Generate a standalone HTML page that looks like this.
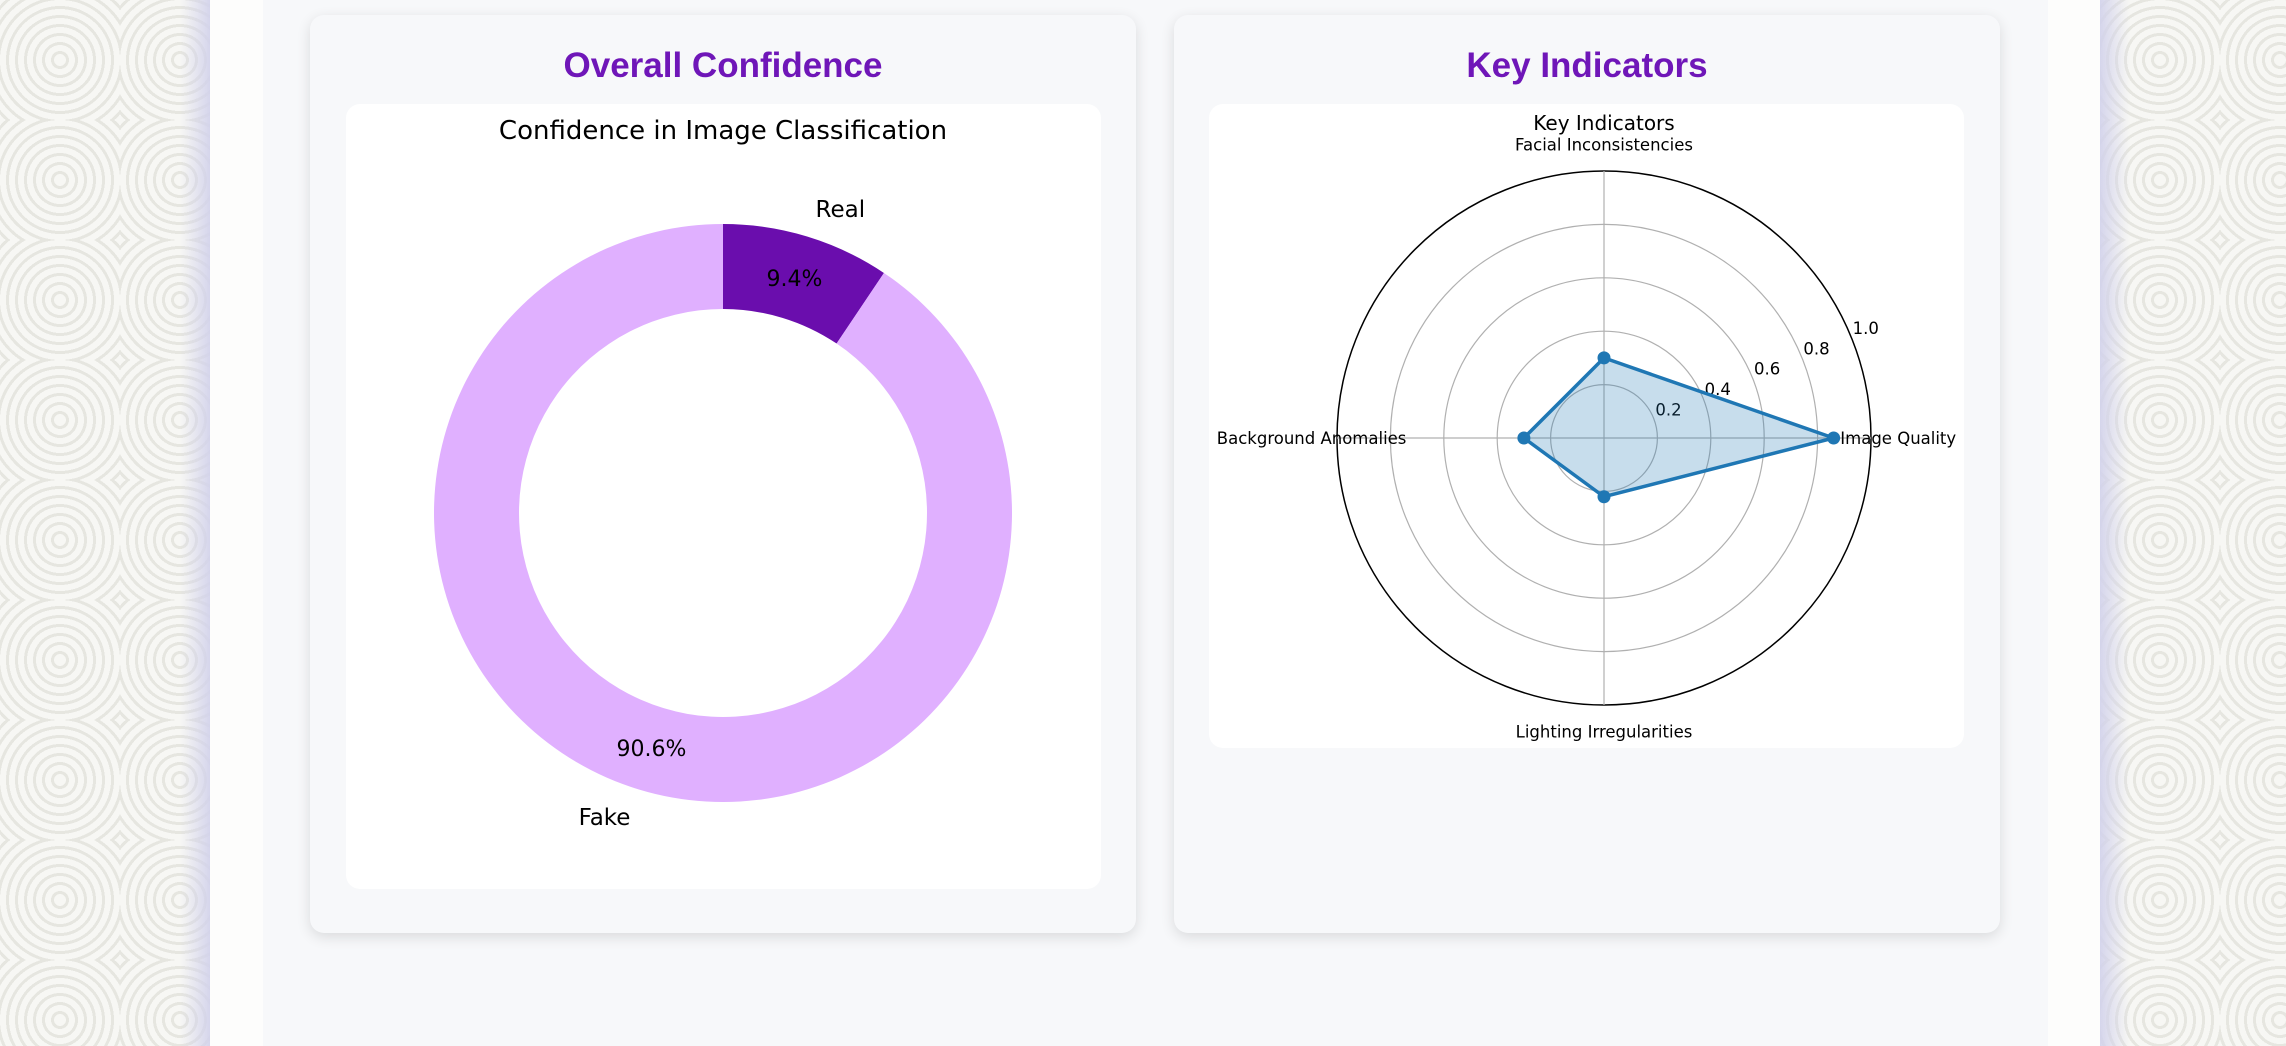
<!DOCTYPE html>
<html><head><meta charset="utf-8"><style>
html,body{margin:0;padding:0;width:2286px;height:1046px;overflow:hidden;background:#fdfdfc;}
.bg{position:absolute;top:0;height:1046px;width:210px;
background-color:#f1f1ed;
background-image:repeating-radial-gradient(circle at 60px 60px,#f7f7f4 0 6px,#e6e6e0 6px 9px),repeating-radial-gradient(circle at 150px 160px,#f7f7f4 0 6px,#e6e6e0 6px 9px);
background-size:120px 120px,180px 180px;}
#bgL{left:0;}#bgR{left:2100px;}
.edgeL{position:absolute;left:180px;top:0;width:30px;height:1046px;background:linear-gradient(90deg,rgba(220,220,240,0),rgba(210,210,235,.9));}
.edgeR{position:absolute;left:2100px;top:0;width:30px;height:1046px;background:linear-gradient(270deg,rgba(220,220,240,0),rgba(210,210,235,.9));}
.main{position:absolute;left:263px;top:0;width:1785px;height:1046px;background:#f7f8fa;}
.card{position:absolute;top:15px;height:918px;width:826px;background:#f7f8fa;border-radius:14px;box-shadow:0 4px 14px rgba(0,0,0,.12);}
.ctitle{position:absolute;top:31px;left:0;width:100%;text-align:center;font:bold 35px "Liberation Sans",sans-serif;color:#6f16b8;}
.panel{position:absolute;background:#fff;border-radius:14px;}
svg text{font-family:"DejaVu Sans",sans-serif;}
</style></head><body>
<div class="bg" id="bgL"></div>
<div class="bg" id="bgR"></div>
<div class="edgeL"></div><div class="edgeR"></div>
<div class="main"></div>
<div class="card" style="left:310px">
<div class="ctitle">Overall Confidence</div>
<div class="panel" style="left:36px;top:89px;width:755px;height:785px"></div>
</div>
<div class="card" style="left:1174px">
<div class="ctitle">Key Indicators</div>
<div class="panel" style="left:35px;top:89px;width:755px;height:644px"></div>
</div>
<svg id="chart" width="2286" height="1046" style="position:absolute;left:0;top:0"></svg>
<script>
const pieLabels=["Real","Fake"];
const pieValues=[9.4,90.6];
const pieColors=["#6a0dad","#e0b0ff"];
const radarCats=["Image Quality","Facial Inconsistencies","Background Anomalies","Lighting Irregularities"];
const radarValues=[0.86,0.30,0.30,0.22];
const radarTicks=[0.2,0.4,0.6,0.8,1.0];
const NS="http://www.w3.org/2000/svg";
const svg=document.getElementById('chart');
function mk(t,a,p){const e=document.createElementNS(NS,t);for(const k in a)e.setAttribute(k,a[k]);(p||svg).appendChild(e);return e;}
// donut
const cx=723,cy=513,R=289,r0=204;
let t=mk('text',{x:723,y:139,'text-anchor':'middle','font-size':26,fill:'#000'});t.textContent="Confidence in Image Classification";


const tot=pieValues.reduce((a,b)=>a+b,0);
let ang=90;
pieValues.forEach((v,i)=>{
 const a1=ang,a2=ang-v/tot*360;const rad=d=>d*Math.PI/180;
 const P=(rr,a)=>[cx+rr*Math.cos(rad(a)),cy-rr*Math.sin(rad(a))];
 const large=(a1-a2)>180?1:0;
 const [x1,y1]=P(R,a1),[x2,y2]=P(R,a2),[x3,y3]=P(r0,a2),[x4,y4]=P(r0,a1);
 const p=mk('path',{d:`M${x1},${y1}A${R},${R} 0 ${large} 1 ${x2},${y2}L${x3},${y3}A${r0},${r0} 0 ${large} 0 ${x4},${y4}Z`,fill:pieColors[i]});
 
 
 const mid=(a1+a2)/2;
 const [lx,ly]=P(R*1.1,mid);
 const l=mk('text',{x:lx,y:ly+8,'text-anchor':Math.cos(rad(mid))>0?'start':'end','font-size':23,fill:'#000'});l.textContent=pieLabels[i];
 
 
 const [px,py]=P(R*0.85,mid);
 const q=mk('text',{x:px,y:py+8,'text-anchor':'middle','font-size':22,fill:'#000'});q.textContent=v.toFixed(1)+"%";
 
 
 ang=a2;
});
// radar
const rx=1604,ry=438,RR=267;
t=mk('text',{x:rx,y:130,'text-anchor':'middle','font-size':20,fill:'#000'});t.textContent="Key Indicators";


radarTicks.forEach(v=>{
 const c=mk('circle',{cx:rx,cy:ry,r:v*RR,fill:'none',stroke:v==1?'#000':'#b0b0b0','stroke-width':v==1?1.5:1.2});
 
 
});
const n=radarCats.length;
const aAt=i=>i*2*Math.PI/n;
radarCats.forEach((c,i)=>{
 const a=aAt(i);
 const l=mk('line',{x1:rx,y1:ry,x2:rx+RR*Math.cos(a),y2:ry-RR*Math.sin(a),stroke:'#b0b0b0','stroke-width':1.2});
 
 
 const lr=RR*1.1;let y=ry-lr*Math.sin(a)+6;
 let anc=Math.abs(Math.cos(a))<0.01?'middle':(Math.cos(a)>0?'start':'end');
 const x=anc==='start'?rx+RR*0.885:anc==='end'?rx-RR*0.74:rx;
 const tx=mk('text',{x:x,y:y,'text-anchor':anc,'font-size':16.5,fill:'#000'});tx.textContent=c;
 
 
});
const ta=22.5*Math.PI/180;
radarTicks.forEach(v=>{
 const tx=mk('text',{x:rx+v*RR*Math.cos(ta)+2,y:ry-v*RR*Math.sin(ta)-2,'font-size':16.5,fill:'#000'});tx.textContent=v.toFixed(1);
 
 
});
const pts=radarValues.map((v,i)=>[rx+v*RR*Math.cos(aAt(i)),ry-v*RR*Math.sin(aAt(i))]);
const ps=pts.map(p=>p.join(',')).join(' ');
const poly=mk('polygon',{points:ps,fill:'rgba(31,119,180,0.25)',stroke:'#1f77b4','stroke-width':3.5,'stroke-linejoin':'round'});


pts.forEach(p=>{
 const d=mk('circle',{cx:p[0],cy:p[1],r:6.5,fill:'#1f77b4'});
 
 
});
</script>
</body></html>
